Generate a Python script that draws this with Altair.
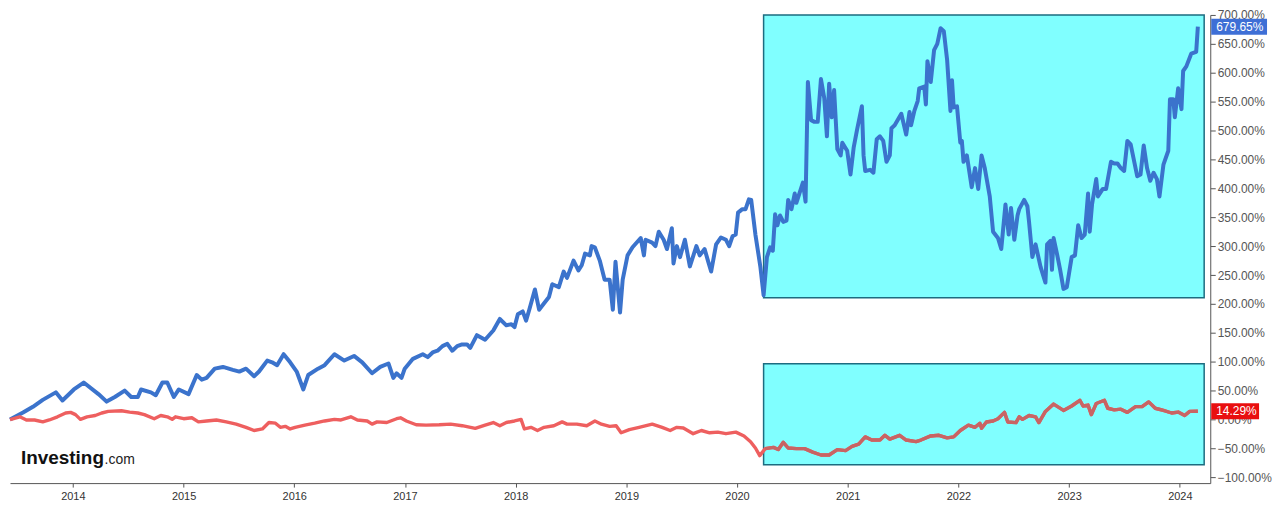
import altair as alt
import pandas as pd

# ---- data (x in decimal years, values in %) ----
blue_year = [
    2013.432, 2013.550, 2013.639, 2013.728, 2013.846, 2013.906, 2014.009, 2014.098, 2014.231, 2014.305,
    2014.379, 2014.468, 2014.527, 2014.587, 2014.616, 2014.705, 2014.749, 2014.809, 2014.853, 2014.912,
    2014.957, 2015.045, 2015.119, 2015.164, 2015.208, 2015.282, 2015.356, 2015.445, 2015.504, 2015.564,
    2015.637, 2015.682, 2015.756, 2015.800, 2015.845, 2015.904, 2015.963, 2016.022, 2016.082, 2016.126,
    2016.215, 2016.274, 2016.363, 2016.452, 2016.540, 2016.614, 2016.703, 2016.777, 2016.851, 2016.895,
    2016.924, 2016.969, 2016.998, 2017.072, 2017.161, 2017.206, 2017.250, 2017.294, 2017.339, 2017.383,
    2017.428, 2017.472, 2017.516, 2017.561, 2017.590, 2017.650, 2017.724, 2017.798, 2017.857, 2017.916,
    2017.961, 2017.990, 2018.020, 2018.064, 2018.094, 2018.123, 2018.174, 2018.212, 2018.257, 2018.301,
    2018.331, 2018.390, 2018.434, 2018.464, 2018.523, 2018.567, 2018.597, 2018.627, 2018.671, 2018.686,
    2018.715, 2018.760, 2018.804, 2018.849, 2018.878, 2018.902, 2018.943, 2018.967, 2019.011, 2019.056,
    2019.130, 2019.159, 2019.174, 2019.233, 2019.263, 2019.293, 2019.337, 2019.367, 2019.411, 2019.426,
    2019.456, 2019.485, 2019.529, 2019.574, 2019.633, 2019.663, 2019.707, 2019.737, 2019.766, 2019.811,
    2019.855, 2019.900, 2019.929, 2019.959, 2019.988, 2020.009, 2020.048, 2020.077, 2020.107, 2020.128,
    2020.166, 2020.211, 2020.240, 2020.270, 2020.299, 2020.323, 2020.344, 2020.365, 2020.388, 2020.418,
    2020.447, 2020.462, 2020.492, 2020.521, 2020.536, 2020.595, 2020.619, 2020.640, 2020.669, 2020.699,
    2020.729, 2020.758, 2020.788, 2020.812, 2020.832, 2020.856, 2020.877, 2020.906, 2020.936, 2020.951,
    2020.995, 2021.025, 2021.054, 2021.084, 2021.128, 2021.143, 2021.158, 2021.202, 2021.232, 2021.262,
    2021.291, 2021.321, 2021.350, 2021.380, 2021.395, 2021.424, 2021.484, 2021.528, 2021.558, 2021.572,
    2021.602, 2021.632, 2021.646, 2021.691, 2021.706, 2021.720, 2021.750, 2021.780, 2021.809, 2021.839,
    2021.868, 2021.898, 2021.928, 2021.942, 2021.957, 2021.987, 2022.017, 2022.031, 2022.046, 2022.076,
    2022.120, 2022.150, 2022.179, 2022.209, 2022.238, 2022.283, 2022.313, 2022.357, 2022.387, 2022.425,
    2022.454, 2022.475, 2022.505, 2022.534, 2022.549, 2022.594, 2022.623, 2022.638, 2022.668, 2022.697,
    2022.742, 2022.786, 2022.801, 2022.831, 2022.845, 2022.860, 2022.890, 2022.919, 2022.949, 2022.979,
    2023.023, 2023.053, 2023.082, 2023.112, 2023.141, 2023.171, 2023.186, 2023.207, 2023.245, 2023.260,
    2023.304, 2023.334, 2023.378, 2023.408, 2023.437, 2023.467, 2023.497, 2023.526, 2023.556, 2023.615,
    2023.645, 2023.674, 2023.704, 2023.733, 2023.763, 2023.793, 2023.816, 2023.852, 2023.896, 2023.911,
    2023.941, 2023.955, 2023.985, 2024.015, 2024.030, 2024.059, 2024.103, 2024.148, 2024.163,
]
blue_val = [
    0, 12, 22, 34, 47, 33, 52, 64, 44, 31,
    39, 50, 39, 39, 52, 47, 42, 64, 64, 39,
    52, 44, 77, 69, 72, 88, 91, 86, 83, 88,
    75, 83, 102, 99, 94, 113, 99, 83, 52, 77,
    88, 94, 113, 102, 110, 99, 80, 91, 97, 72,
    80, 72, 88, 105, 113, 108, 116, 119, 127, 131,
    119, 127, 130, 130, 124, 146, 138, 154, 174, 163,
    165, 160, 182, 187, 171, 190, 225, 190, 201, 212,
    234, 229, 256, 245, 275, 258, 267, 287, 284, 300,
    298, 275, 242, 242, 190, 273, 185, 242, 284, 298,
    314, 284, 311, 306, 300, 325, 311, 295, 331, 270,
    300, 281, 311, 265, 300, 284, 295, 275, 256, 303,
    315, 311, 300, 317, 320, 358, 364, 364, 381, 380,
    320, 264, 215, 281, 298, 292, 355, 336, 353, 342,
    344, 380, 364, 391, 375, 410, 377, 584, 518, 515,
    515, 589, 556, 490, 581, 523, 570, 468, 457, 479,
    465, 424, 471, 501, 542, 457, 430, 432, 427, 485,
    490, 482, 446, 457, 504, 509, 529, 493, 532, 509,
    534, 551, 573, 576, 545, 620, 584, 639, 650, 677,
    672, 622, 534, 587, 540, 542, 479, 482, 446, 457,
    402, 435, 399, 457, 435, 386, 325, 314, 295, 372,
    320, 366, 311, 353, 364, 380, 369, 342, 281, 303,
    264, 237, 303, 309, 259, 314, 287, 259, 226, 229,
    281, 284, 336, 314, 320, 391, 325, 372, 416, 386,
    399, 399, 446, 443, 443, 435, 430, 482, 476, 421,
    424, 474, 435, 413, 427, 416, 386, 441, 465, 554,
    554, 523, 573, 537, 603, 611, 633, 636, 679.65,
]

red_year = [
    2013.432, 2013.521, 2013.580, 2013.654, 2013.728, 2013.787, 2013.861, 2013.935, 2013.980, 2014.024,
    2014.068, 2014.128, 2014.202, 2014.261, 2014.320, 2014.439, 2014.513, 2014.587, 2014.646, 2014.735,
    2014.794, 2014.853, 2014.897, 2014.927, 2015.001, 2015.075, 2015.134, 2015.208, 2015.297, 2015.386,
    2015.475, 2015.564, 2015.637, 2015.712, 2015.771, 2015.830, 2015.874, 2015.919, 2015.963, 2016.008,
    2016.096, 2016.185, 2016.274, 2016.363, 2016.422, 2016.511, 2016.570, 2016.659, 2016.703, 2016.748,
    2016.836, 2016.925, 2016.960, 2017.013, 2017.102, 2017.191, 2017.309, 2017.413, 2017.517, 2017.635,
    2017.724, 2017.798, 2017.857, 2017.916, 2017.990, 2018.049, 2018.079, 2018.138, 2018.197, 2018.257,
    2018.345, 2018.420, 2018.464, 2018.553, 2018.642, 2018.716, 2018.775, 2018.849, 2018.908, 2018.953,
    2019.027, 2019.115, 2019.234, 2019.323, 2019.396, 2019.456, 2019.515, 2019.604, 2019.678, 2019.752,
    2019.826, 2019.900, 2019.989, 2020.063, 2020.122, 2020.166, 2020.205, 2020.255, 2020.329, 2020.373,
    2020.418, 2020.462, 2020.536, 2020.610, 2020.684, 2020.758, 2020.832, 2020.906, 2020.980, 2021.039,
    2021.099, 2021.158, 2021.217, 2021.291, 2021.336, 2021.380, 2021.469, 2021.528, 2021.617, 2021.661,
    2021.750, 2021.824, 2021.898, 2021.957, 2022.017, 2022.090, 2022.150, 2022.194, 2022.209, 2022.253,
    2022.313, 2022.357, 2022.416, 2022.446, 2022.520, 2022.549, 2022.579, 2022.638, 2022.697, 2022.727,
    2022.786, 2022.860, 2022.949, 2023.023, 2023.097, 2023.126, 2023.171, 2023.201, 2023.245, 2023.319,
    2023.349, 2023.408, 2023.467, 2023.526, 2023.600, 2023.659, 2023.719, 2023.778, 2023.852, 2023.926,
    2023.985, 2024.044, 2024.089, 2024.163,
]
red_val = [
    0, 4.7, -0.8, -0.8, -4.1, -0.8, 4.7, 11.3, 12.4, 8.5,
    0.3, 4.7, 6.9, 11.3, 14.0, 15.1, 12.9, 11.3, 8.5, 1.4,
    6.9, 4.7, 0.3, 4.7, 1.4, 3.0, -4.1, -2.5, -0.8, -4.1,
    -8.0, -13.5, -19.0, -16.3, -5.2, -6.3, -13.5, -11.8, -16.3, -13.5,
    -9.6, -6.3, -2.5, 0.3, -0.8, 4.7, -0.8, -2.5, -8.0, -4.1,
    -5.2, 1.4, 3.0, -2.5, -9.1, -9.6, -9.1, -8.0, -10.7, -15.2,
    -9.6, -5.2, -10.7, -5.2, -2.5, 0.3, -16.3, -13.5, -19.0, -13.5,
    -10.7, -4.1, -8.0, -8.0, -10.7, -2.5, -8.0, -11.8, -10.7, -22.9,
    -17.4, -13.5, -8.0, -13.5, -19.0, -13.5, -14.6, -24.5, -19.0, -22.9,
    -21.8, -24.5, -21.8, -28.4, -38.3, -49.3, -62.5, -50.4, -48.2, -52.0,
    -39.4, -49.3, -50.4, -50.4, -56.5, -61.4, -61.4, -52.0, -53.7, -46.5,
    -42.7, -30.0, -35.5, -35.5, -27.3, -33.9, -27.3, -35.5, -38.3, -35.5,
    -28.4, -27.3, -31.7, -30.0, -19.0, -9.7, -13.5, -6.4, -15.2, -4.2,
    -2.5, 1.4, 12.4, -4.2, -5.3, 4.7, 0.3, 6.9, 4.7, -5.3,
    14.0, 26.7, 15.7, 23.4, 33.3, 23.4, 25.0, 8.5, 27.8, 33.3,
    19.5, 16.8, 17.9, 12.4, 22.3, 22.3, 30.5, 19.5, 15.7, 11.3,
    12.9, 6.9, 14.0, 14.29,
]

# highlight boxes drawn on the original picture
box_x0 = [2020.24, 2020.24]
box_x1 = [2024.22, 2024.22]
box_y0 = [210.6, -78.4]
box_y1 = [700.0, 96.6]

last_vals = [679.65, 14.29]
last_text = ["679.65%", "14.29%"]
year_ticks = list(range(2014, 2025))
pct_ticks = list(range(-100, 701, 50))

W, H = 1205, 470
FONT = "Liberation Sans"

xs = alt.Scale(domain=[2013.432, 2024.275], nice=False, zero=False)
ys = alt.Scale(domain=[-110, 700], nice=False, zero=False)
xaxis = alt.Axis(values=year_ticks, format="d", title=None, grid=False,
                 labelFontSize=11, labelColor="#333333", labelFont=FONT,
                 tickSize=4, tickColor="#555555", domainColor="#555555",
                 labelPadding=3, labelFlush=False)
yaxis = alt.Axis(orient="right", values=pct_ticks,
                 labelExpr="format(datum.value, '.2f') + '%'",
                 title=None, grid=False, labelFontSize=12, labelColor="#555555",
                 labelFont=FONT, tickSize=5, tickColor="#555555",
                 domainColor="#555555", labelPadding=2, labelFlush=False,
                 labelOverlap=False)


def X(f):
    return alt.X(f, type="quantitative", scale=xs, axis=xaxis)


def Y(f):
    return alt.Y(f, type="quantitative", scale=ys, axis=yaxis)


blue_df = pd.DataFrame({"year": blue_year, "val": blue_val})
red_df = pd.DataFrame({"year": red_year, "val": red_val})
box_df = pd.DataFrame({"x0": box_x0, "x1": box_x1, "y0": box_y0, "y1": box_y1})

boxes = alt.Chart(box_df).mark_rect(
    fill="#80ffff", stroke="#1d6c80", strokeWidth=1.5
).encode(x=X("x0"), x2="x1", y=Y("y0"), y2="y1")

blue = alt.Chart(blue_df).mark_line(
    color="#3b73cc", strokeWidth=4, strokeJoin="round"
).encode(x=X("year"), y=Y("val"))

red = alt.Chart(red_df).mark_line(
    color="#ee5f5f", strokeWidth=3.4, strokeJoin="round"
).encode(x=X("year"), y=Y("val"))

red_in = alt.Chart(red_df).transform_filter(
    alt.datum.year >= box_x0[0]
).mark_line(color="#c86464", strokeWidth=3.4, strokeJoin="round").encode(
    x=X("year"), y=Y("val"))

lab_blue_df = pd.DataFrame({"v": [last_vals[0]], "t": [last_text[0]]})
lab_red_df = pd.DataFrame({"v": [last_vals[1]], "t": [last_text[1]]})

lab_blue_bg = alt.Chart(lab_blue_df).mark_rule(
    color="#3e6fd6", strokeWidth=16, strokeCap="butt"
).encode(y=Y("v"), x=alt.value(W + 1), x2=alt.value(W + 57))
lab_blue_tx = alt.Chart(lab_blue_df).mark_text(
    align="left", baseline="middle", color="white", fontSize=12, font=FONT
).encode(y=Y("v"), x=alt.value(W + 6), text="t:N")

lab_red_bg = alt.Chart(lab_red_df).mark_rule(
    color="#e90f0f", strokeWidth=16, strokeCap="butt"
).encode(y=Y("v"), x=alt.value(W + 1), x2=alt.value(W + 49))
lab_red_tx = alt.Chart(lab_red_df).mark_text(
    align="left", baseline="middle", color="white", fontSize=12, font=FONT
).encode(y=Y("v"), x=alt.value(W + 6), text="t:N")

one = pd.DataFrame({"a": [0]})
logo1 = alt.Chart(one).mark_text(
    text="Investing", align="left", baseline="alphabetic", fontSize=19,
    fontWeight="bold", color="#111111", font=FONT
).encode(x=alt.value(11), y=alt.value(H - 19))
logo2 = alt.Chart(one).mark_text(
    text=".com", align="left", baseline="alphabetic", fontSize=14,
    color="#222222", font=FONT
).encode(x=alt.value(95), y=alt.value(H - 19))

chart = alt.layer(
    boxes, blue, red, red_in, lab_blue_bg, lab_blue_tx, lab_red_bg, lab_red_tx,
    logo1, logo2
).properties(
    width=W, height=H, padding={"left": 0, "top": 0, "right": 0, "bottom": 0},
    background="white"
).configure(font=FONT).configure_view(strokeWidth=0, stroke=None)

chart.save("out.html", embed_options={"renderer": "svg", "actions": False})
